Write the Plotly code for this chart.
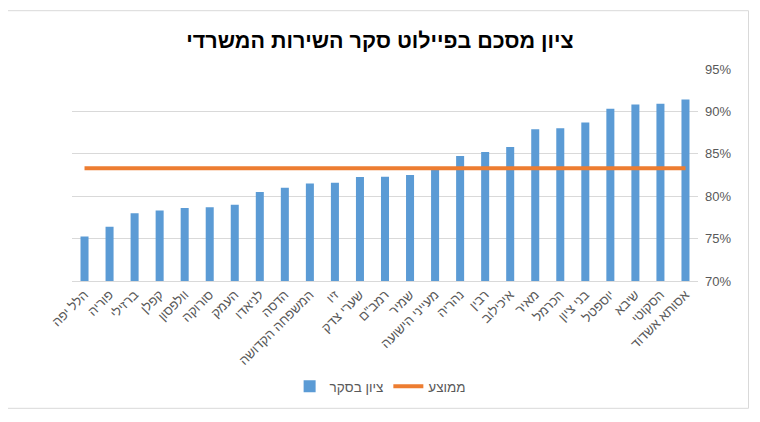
import plotly.graph_objects as go

categories = ["הלל יפה", "פוריה", "ברזילי", "קפלן", "וולפסון", "סורוקה", "העמק", "לניאדו",
              "הדסה", "המשפחה הקדושה", "זיו", "שערי צדק", 'רמב"ם', "שמיר", "מעייני הישועה",
              "נהריה", "רבין", "איכילוב", "מאיר", "הכרמל", "בני ציון", "יוספטל", "שיבא",
              "הסקוטי", "אסותא אשדוד"]
scores = [0.7525, 0.764, 0.780, 0.783, 0.786, 0.787, 0.790, 0.805, 0.810, 0.815, 0.816,
          0.8225, 0.823, 0.825, 0.833, 0.8475, 0.852, 0.858, 0.879, 0.880, 0.887, 0.903,
          0.908, 0.909, 0.914]
average = [0.833] * len(categories)
y_ticks = [0.70, 0.75, 0.80, 0.85, 0.90, 0.95]

FONT = "Liberation Sans, Arial, sans-serif"
fig = go.Figure()
fig.add_trace(go.Bar(x=categories, y=scores, name="ציון בסקר",
                     marker=dict(color="#5b9bd5", line=dict(width=0))))
fig.add_trace(go.Scatter(x=categories, y=average, name="ממוצע", mode="lines",
                         line=dict(color="#ed7d31", width=4)))

fig.update_layout(
    width=744, height=406,
    margin=dict(l=64, r=54, t=61, b=131),
    paper_bgcolor="white", plot_bgcolor="white",
    bargap=0.68,
    font=dict(family=FONT, color="#595959", size=13),
    title=dict(text="<b>ציון מסכם בפיילוט סקר השירות המשרדי</b>", x=0.5, xanchor="center",
               y=0.921, yanchor="middle",
               font=dict(size=21.5, color="#000000", family=FONT)),
    showlegend=True,
    legend=dict(orientation="h", x=0.493, xanchor="center", y=-0.498, yanchor="middle",
                font=dict(size=13.5, color="#595959"), traceorder="normal"),
    xaxis=dict(type="category", tickangle=-45, showgrid=False, showline=True,
               linecolor="#d9d9d9", linewidth=1, ticks="", tickfont=dict(size=13)),
    yaxis=dict(side="right", range=[0.70, 0.95], tickvals=y_ticks, tickformat=".0%",
               showgrid=True, gridcolor="#d9d9d9", gridwidth=1, zeroline=False,
               showline=False, ticks="", ticklabelstandoff=6, tickfont=dict(size=13)),
    shapes=[dict(type="rect", xref="paper", yref="paper", x0=-0.1046, x1=1.0807,
                 y0=-0.6006, y1=1.275, line=dict(color="#d9d9d9", width=1),
                 fillcolor="rgba(0,0,0,0)", layer="below")],
)

fig.write_html("out.html")
